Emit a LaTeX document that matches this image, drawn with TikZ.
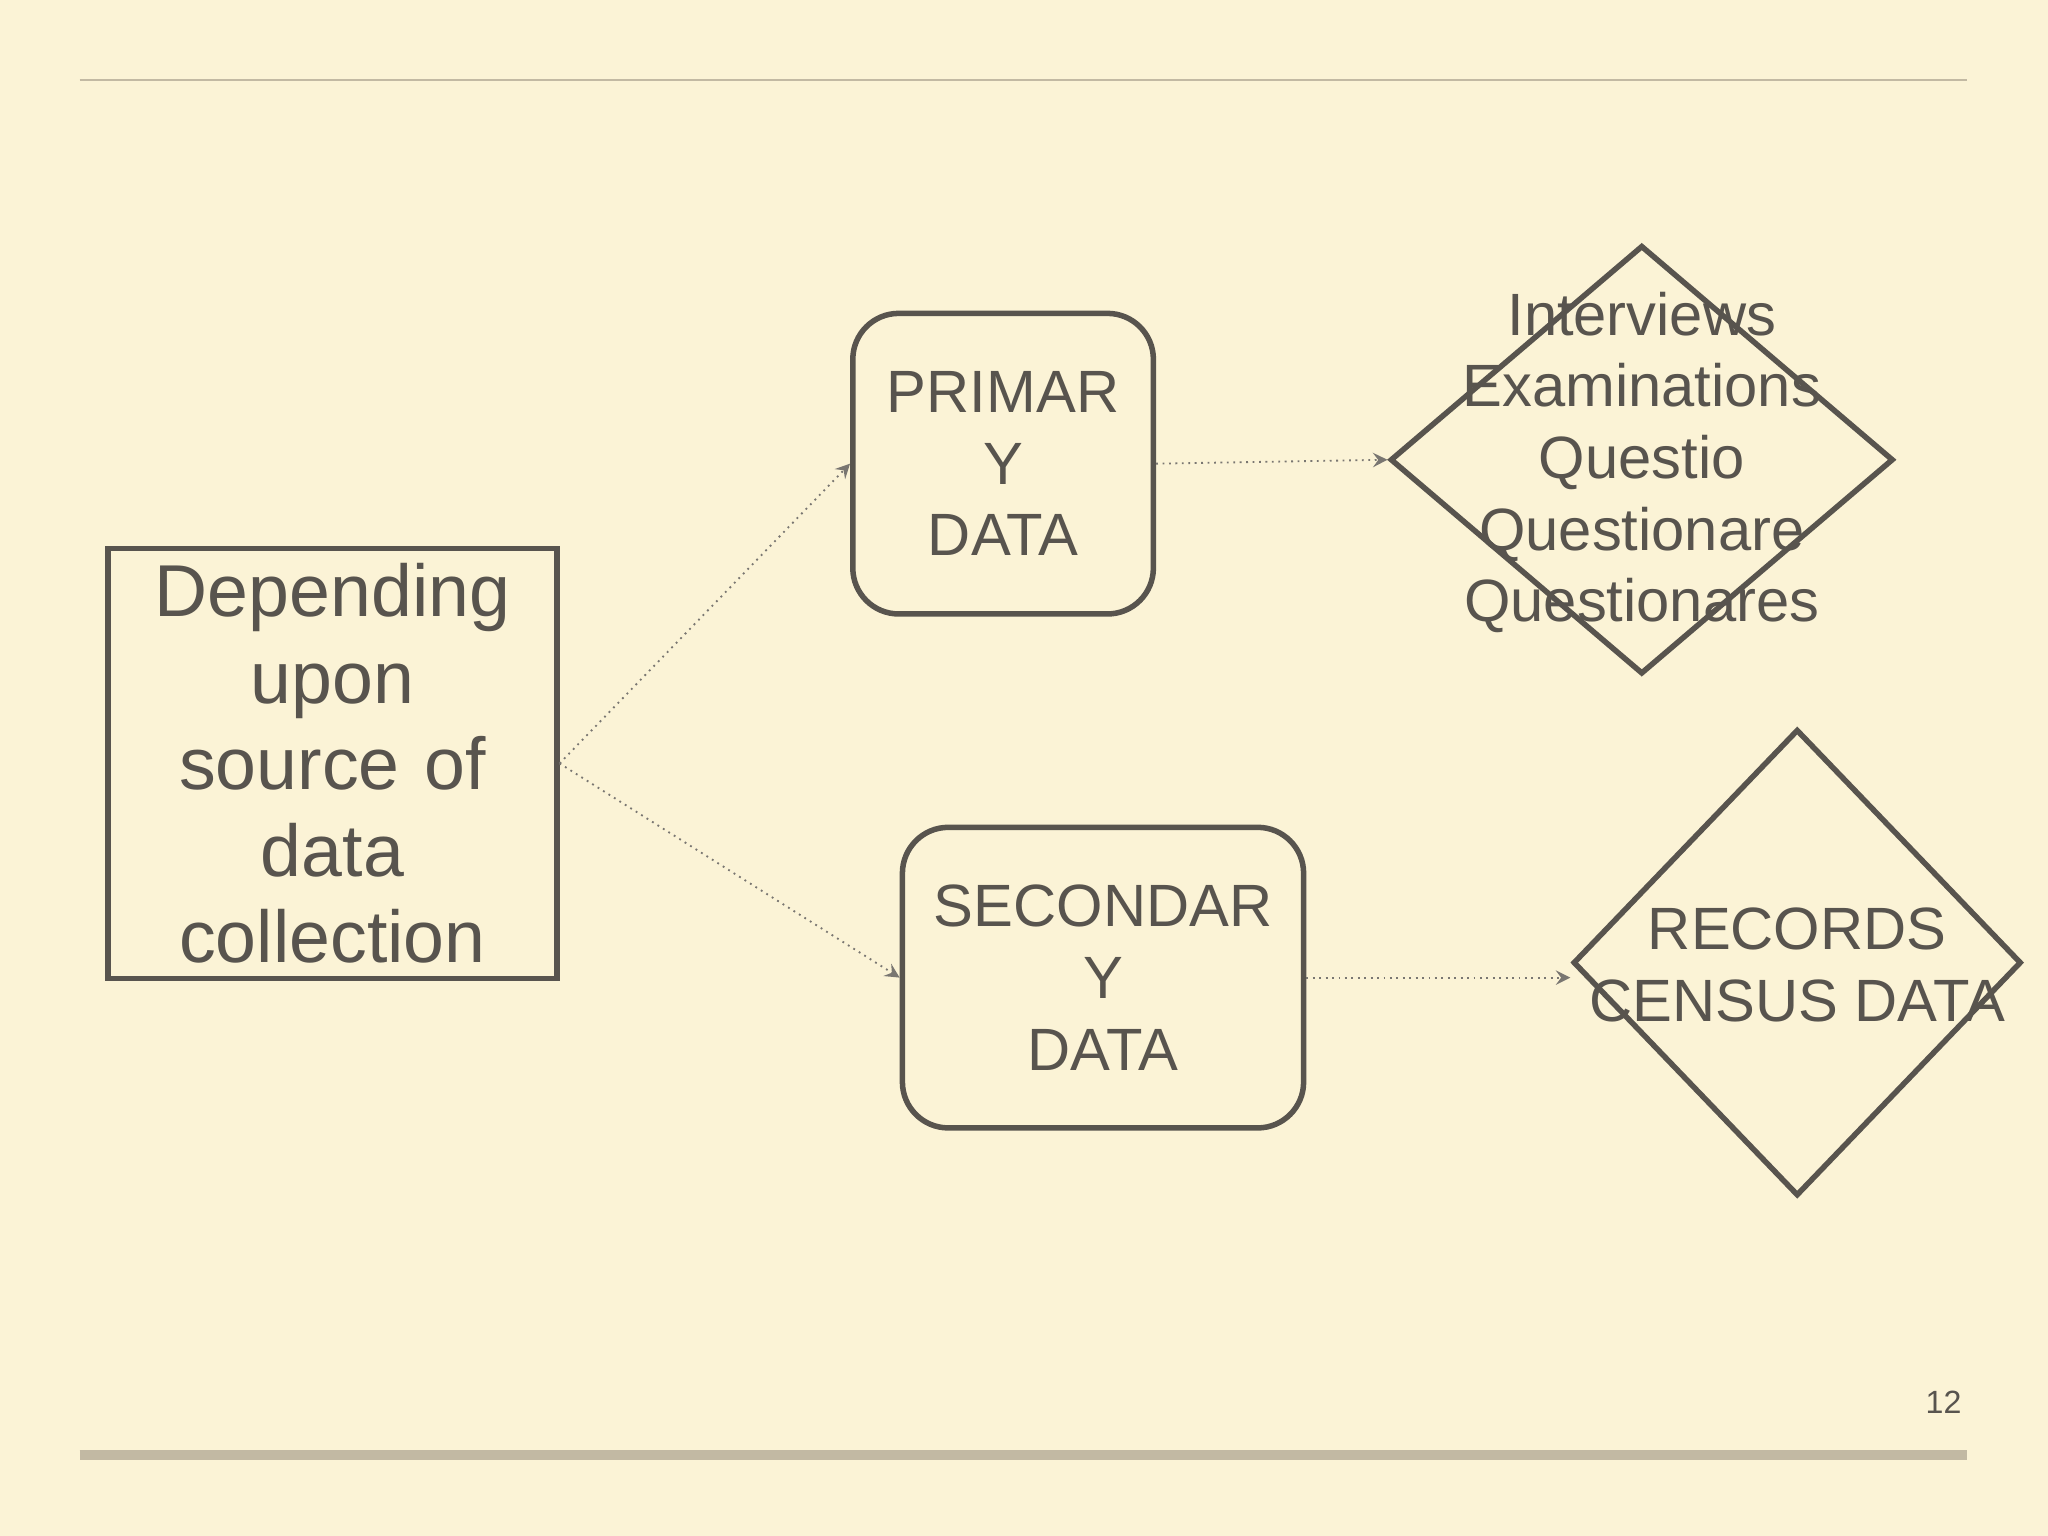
\documentclass[tikz,border=0pt]{standalone}
\usepackage{fontspec}
\setmainfont{Liberation Sans}
\usetikzlibrary{shapes.geometric,arrows,positioning}
\definecolor{paper}{HTML}{FBF3D6}
\definecolor{ink}{HTML}{58544E}
\definecolor{rule}{HTML}{C2B9A3}
\begin{document}
\begin{tikzpicture}[x=0.01cm,y=-0.01cm]
    % Define styles for nodes and arrows
    \tikzstyle{source} = [rectangle, draw=ink, line width=1.2pt, minimum width=3.27cm, minimum height=3.23cm, text width=3.2cm, align=center, text=ink, font=\fontsize{16}{18.8}\selectfont]
    \tikzstyle{kind} = [rectangle, rounded corners=10pt, draw=ink, line width=1.2pt, minimum height=2.3cm, align=center, text=ink, font=\fontsize{13}{15.6}\selectfont]
    \tikzstyle{way} = [diamond, draw=ink, line width=1.2pt, inner sep=0pt]
    \tikzstyle{waytext} = [align=center, text=ink, font=\fontsize{13}{15.6}\selectfont]
    \tikzstyle{arrow} = [densely dotted, draw=ink!80, line width=0.4pt, -stealth]
    % Background and rules
    \fill[paper] (0,0) rectangle (1568,1176);
    \draw[rule, line width=0.4pt] (61,61) -- (1506,61);
    \draw[rule, line width=2.2pt] (61,1114) -- (1506,1114);
    \node[text=ink, font=\fontsize{7}{8}\selectfont] (page) at (1488,1074) {12};
    % Nodes
    \node (source) [source] at (254.5,584.5) {Depending\\upon\\source of\\data\\collection};
    \node (primary) [kind, minimum width=2.3cm] at (768,355) {PRIMAR\\Y\\DATA};
    \node (secondary) [kind, minimum width=3.07cm] at (844.5,748.5) {SECONDAR\\Y\\DATA};
    \node (ways) [way, minimum width=3.85cm, minimum height=3.28cm] at (1257,352) {};
    \node (waystext) [waytext] at (1257,354) {Interviews\\Examinations\\Questio\\Questionare\\Questionares};
    \node (records) [way, minimum width=3.43cm, minimum height=3.57cm] at (1376,737) {};
    \node (recordstext) [waytext] at (1376,739) {RECORDS\\CENSUS DATA};
    % Arrows (connections)
    \draw [arrow] (source.east) -- (primary.west);
    \draw [arrow] (source.east) -- (secondary.west);
    \draw [arrow] (primary.east) -- (ways.west);
    \draw [arrow] (secondary.east) -- (records.west |- secondary.east);
\end{tikzpicture}
\end{document}
